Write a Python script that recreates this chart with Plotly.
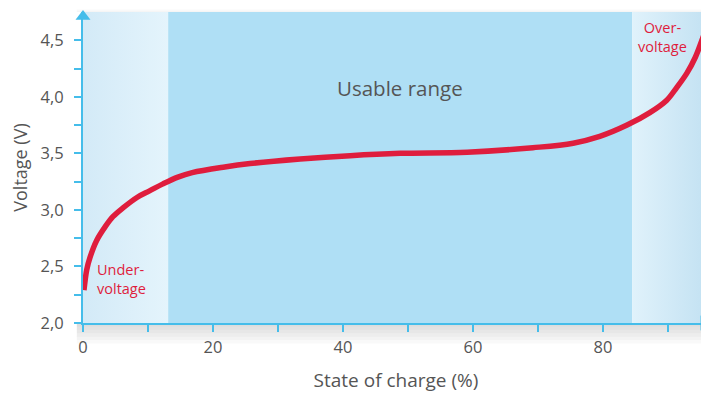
import plotly.graph_objects as go

# ---- data ----
soc = [0.15, 0.57, 1.08, 2.1, 3.4, 4.6, 6.2, 8.3, 10.3, 12.3, 14.6, 16.8, 21.8, 25.7,
       33.4, 41.1, 48.8, 59.1, 69.2, 75.4, 79.5, 83.7, 87.2, 89.8, 91.3, 92.9, 94.2,
       95.4, 96.3, 96.6]
voltage = [2.29, 2.47, 2.58, 2.73, 2.85, 2.94, 3.02, 3.11, 3.17, 3.23, 3.29, 3.33, 3.38, 3.41,
           3.45, 3.48, 3.50, 3.51, 3.55, 3.59, 3.65, 3.75, 3.86, 3.97, 4.08, 4.21, 4.35,
           4.53, 4.68, 4.73]
zones = [0, 13.1, 84.5, 96.3]
y_ticks = [2.0, 2.5, 3.0, 3.5, 4.0, 4.5]
y_labels = ["2,0", "2,5", "3,0", "3,5", "4,0", "4,5"]
x_ticks = [0, 20, 40, 60, 80]
x_labels = ["0", "20", "40", "60", "80"]

YMIN, YMAX = 2.0, 4.75
XMAX = zones[-1]
AX = "#45bdea"
RED = "#df1d3d"
GREY = "#555555"
FONT = "Open Sans"

fig = go.Figure()

# side panels with horizontal gradients
def panel(x0, x1, c0, c1):
    fig.add_trace(go.Scatter(
        x=[x0, x1, x1, x0, x0], y=[YMIN, YMIN, YMAX, YMAX, YMIN],
        fill="toself", mode="lines", line=dict(width=0),
        fillgradient=dict(type="horizontal", colorscale=[[0, c0], [1, c1]]),
        hoverinfo="skip", showlegend=False))

panel(zones[0], zones[1], "#d3eaf7", "#e4f4fc")
fig.add_trace(go.Scatter(
    x=[zones[1], zones[2], zones[2], zones[1], zones[1]], y=[YMIN, YMIN, YMAX, YMAX, YMIN],
    fill="toself", mode="lines", line=dict(width=0), fillcolor="#afdff5",
    hoverinfo="skip", showlegend=False))
panel(zones[2], zones[3], "#e0f2fb", "#c2e1f2")

# curve
fig.add_trace(go.Scatter(x=soc, y=voltage, mode="lines",
                         line=dict(color=RED, width=5.5, shape="spline", smoothing=1.0),
                         hoverinfo="skip", showlegend=False))

# arrow heads
fig.add_trace(go.Scatter(x=[0], y=[YMAX - 0.04], mode="markers",
                         marker=dict(symbol="triangle-up", size=13, color=AX),
                         cliponaxis=False, hoverinfo="skip", showlegend=False))
fig.add_trace(go.Scatter(x=[XMAX - 0.8], y=[YMIN], mode="markers",
                         marker=dict(symbol="triangle-right", size=13, color=AX),
                         cliponaxis=False, hoverinfo="skip", showlegend=False))

# shadow under / above panel
shapes = []
for k in range(1, 7):
    shapes.append(dict(type="rect", xref="paper", yref="paper", x0=-0.01, x1=1.0,
                       y0=-k * 0.011, y1=0, fillcolor="#7a7a7a", opacity=0.045,
                       line=dict(width=0), layer="below"))
for k in range(1, 3):
    shapes.append(dict(type="rect", xref="paper", yref="paper", x0=-0.01, x1=1.0,
                       y0=1.0, y1=1.0 + k * 0.004, fillcolor="#7a7a7a", opacity=0.04,
                       line=dict(width=0), layer="below"))
fig.update_layout(shapes=shapes)

annos = [
    dict(x=(zones[1] + zones[2]) / 2, y=4.08, text="Usable range",
         font=dict(size=20.5, color=GREY, family=FONT)),
    dict(x=1.85, y=2.389, text="Under-<br>voltage", xanchor="left", align="left",
         font=dict(size=14.5, color=RED, family=FONT)),
    dict(x=89.15, y=4.531, text="Over-<br>voltage", align="center",
         font=dict(size=14.5, color=RED, family=FONT)),
]
for a in annos:
    fig.add_annotation(showarrow=False, **a)

# the page body adds an 8px offset, so the figure is 701x385 with margins compensated
fig.update_layout(
    width=701, height=385,
    margin=dict(l=75, r=0, t=4, b=70),
    paper_bgcolor="white", plot_bgcolor="white",
    font=dict(family=FONT, color=GREY, size=16),
    xaxis=dict(range=[0, XMAX], tickvals=x_ticks, ticktext=x_labels,
               showgrid=False, zeroline=False, showline=True, linecolor=AX, linewidth=2,
               ticks="outside", ticklen=7, tickcolor=AX, tickwidth=2,
               minor=dict(tickvals=[10, 30, 50, 70, 90], ticks="outside", ticklen=7,
                          tickcolor=AX, tickwidth=2, showgrid=False),
               tickfont=dict(size=16.5, color=GREY), ticklabelstandoff=1,
               title=dict(text="State of charge (%)", font=dict(size=19, color=GREY), standoff=17)),
    yaxis=dict(range=[YMIN, YMAX], tickvals=y_ticks, ticktext=y_labels,
               showgrid=False, zeroline=False, showline=True, linecolor=AX, linewidth=2,
               ticks="outside", ticklen=7, tickcolor=AX, tickwidth=2,
               minor=dict(tickvals=[2.25, 2.75, 3.25, 3.75, 4.25], ticks="outside", ticklen=7,
                          tickcolor=AX, tickwidth=2, showgrid=False),
               tickfont=dict(size=16.5, color=GREY), ticklabelstandoff=7,
               title=dict(text="Voltage (V)", font=dict(size=18, color=GREY), standoff=12)),
)

fig.write_html("out.html")
